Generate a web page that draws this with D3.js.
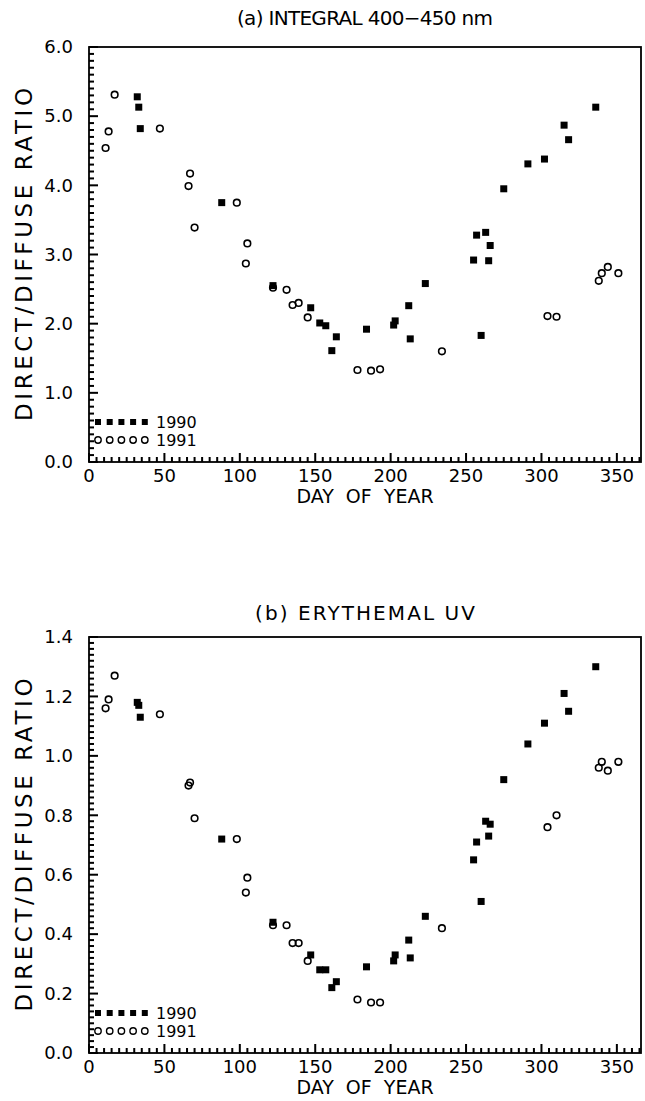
<!DOCTYPE html>
<html><head><meta charset="utf-8">
<script src="https://cdn.jsdelivr.net/npm/d3@7"></script>
<style>body{margin:0;background:#fff}svg{display:block}text{font-family:"DejaVu Sans",sans-serif;fill:#000}</style>
</head><body>
<script>
// ---- data ----
const days1990 = [32, 33, 34, 88, 122, 147, 153, 157, 161, 164, 184, 202, 203, 212, 213, 223, 255, 257, 260, 263, 265, 266, 275, 291, 302, 315, 318, 336];
const ratioA1990 = [5.28, 5.13, 4.82, 3.75, 2.55, 2.23, 2.01, 1.97, 1.61, 1.81, 1.92, 1.98, 2.04, 2.26, 1.78, 2.58, 2.92, 3.28, 1.83, 3.32, 2.91, 3.13, 3.95, 4.31, 4.38, 4.87, 4.66, 5.13];
const ratioB1990 = [1.18, 1.17, 1.13, 0.72, 0.44, 0.33, 0.28, 0.28, 0.22, 0.24, 0.29, 0.31, 0.33, 0.38, 0.32, 0.46, 0.65, 0.71, 0.51, 0.78, 0.73, 0.77, 0.92, 1.04, 1.11, 1.21, 1.15, 1.30];
const days1991 = [11, 13, 17, 47, 66, 67, 70, 98, 104, 105, 122, 131, 135, 139, 145, 178, 187, 193, 234, 304, 310, 338, 340, 344, 351];
const ratioA1991 = [4.54, 4.78, 5.31, 4.82, 3.99, 4.17, 3.39, 3.75, 2.87, 3.16, 2.52, 2.49, 2.27, 2.30, 2.09, 1.33, 1.32, 1.34, 1.60, 2.11, 2.10, 2.62, 2.73, 2.82, 2.73];
const ratioB1991 = [1.16, 1.19, 1.27, 1.14, 0.90, 0.91, 0.79, 0.72, 0.54, 0.59, 0.43, 0.43, 0.37, 0.37, 0.31, 0.18, 0.17, 0.17, 0.42, 0.76, 0.80, 0.96, 0.98, 0.95, 0.98];
const xTicks = [0, 50, 100, 150, 200, 250, 300, 350];
const yTicksA = [0, 1, 2, 3, 4, 5, 6];
const yTicksB = [0, 0.2, 0.4, 0.6, 0.8, 1.0, 1.2, 1.4];
const titles = ["(a)  INTEGRAL  400\u2212450  nm", "(b)  ERYTHEMAL  UV"];
const xTitle = "DAY  OF  YEAR";
const yTitle = "DIRECT/DIFFUSE  RATIO";
const legendLabels = ["1990", "1991"];

const W = 645, H = 1101;
const svg = d3.select("body").append("svg").attr("width", W).attr("height", H);

const panels = [
  {top: 47, bottom: 462, ymax: 6, yTicks: yTicksA, minorStep: 0.1, a: ratioA1990, b: ratioA1991, title: titles[0], titleY: 18, titleLen: 256},
  {top: 637, bottom: 1053, ymax: 1.4, yTicks: yTicksB, minorStep: 0.02, a: ratioB1990, b: ratioB1991, title: titles[1], titleY: 613, titleLen: 220}
];
const L = 89, R = 641;

panels.forEach(p => {
  const x = d3.scaleLinear().domain([0, 366]).range([L, R]);
  const y = d3.scaleLinear().domain([0, p.ymax]).range([p.bottom, p.top]);

  // frame
  svg.append("rect").attr("x", L).attr("y", p.top).attr("width", R - L).attr("height", p.bottom - p.top)
    .attr("fill", "none").attr("stroke", "#000").attr("stroke-width", 1.8);

  // tick labels
  p.yTicks.forEach(v => {
    svg.append("text").attr("x", L - 16).attr("y", y(v)).attr("dy", "0.35em")
      .attr("text-anchor", "end").attr("font-size", 18).text(d3.format(".1f")(v));
  });
  xTicks.forEach(v => {
    svg.append("text").attr("x", x(v)).attr("y", p.bottom + 20)
      .attr("text-anchor", "middle").attr("font-size", 18).text(d3.format("d")(v));
  });

  // titles
  svg.append("text").attr("x", (L + R) / 2).attr("y", p.titleY).attr("dy", "0.35em")
    .attr("text-anchor", "middle").attr("font-size", 20)
    .attr("textLength", p.titleLen).attr("lengthAdjust", "spacing").text(p.title.replace(/  /g, " "));
  svg.append("text").attr("x", (L + R) / 2).attr("y", p.bottom + 41)
    .attr("text-anchor", "middle").attr("font-size", 19).attr("word-spacing", 6).text(xTitle.replace(/  /g, " "));
  svg.append("text").attr("transform", `translate(24,${(p.top + p.bottom) / 2}) rotate(-90)`)
    .attr("dy", "0.35em").attr("text-anchor", "middle").attr("font-size", 23)
    .attr("textLength", 333).attr("lengthAdjust", "spacing").text(yTitle.replace(/  /g, " "));

  // data: 1990 filled squares
  const s = 7;
  svg.append("g").selectAll("rect").data(days1990.map((d, i) => [d, p.a[i]])).join("rect")
    .attr("x", d => x(d[0]) - s / 2).attr("y", d => y(d[1]) - s / 2)
    .attr("width", s).attr("height", s).attr("fill", "#000");
  // 1991 open circles
  svg.append("g").selectAll("circle").data(days1991.map((d, i) => [d, p.b[i]])).join("circle")
    .attr("cx", d => x(d[0])).attr("cy", d => y(d[1])).attr("r", 3.3)
    .attr("fill", "none").attr("stroke", "#000").attr("stroke-width", 1.6);

  // legend
  const ly1 = p.bottom - 40, ly2 = p.bottom - 22;
  d3.range(5).forEach(i => {
    const cx = 98 + i * 11.7;
    svg.append("rect").attr("x", cx - 3).attr("y", ly1 - 3).attr("width", 6).attr("height", 6).attr("fill", "#000");
    svg.append("circle").attr("cx", cx).attr("cy", ly2).attr("r", 3.2).attr("fill", "none").attr("stroke", "#000").attr("stroke-width", 1.4);
  });
  svg.append("text").attr("x", 156).attr("y", ly1).attr("dy", "0.35em").attr("font-size", 16).text(legendLabels[0]);
  svg.append("text").attr("x", 156).attr("y", ly2).attr("dy", "0.35em").attr("font-size", 16).text(legendLabels[1]);

  // inward ticks, drawn last, from the scales
  svg.append("g").selectAll("rect").data(d3.range(0, 366, 5)).join("rect")
    .attr("x", d => x(d) - 1).attr("width", 2)
    .attr("y", d => p.bottom - (d % 50 === 0 ? 9 : 5)).attr("height", d => (d % 50 === 0 ? 9 : 5))
    .attr("fill", "#000");
  const nMinor = Math.round(p.ymax / p.minorStep);
  const majorEvery = Math.round(p.yTicks[1] / p.minorStep);
  svg.append("g").selectAll("rect").data(d3.range(0, nMinor + 1)).join("rect")
    .attr("y", i => y(i * p.minorStep) - 1).attr("height", 2)
    .attr("x", L).attr("width", i => (i % majorEvery === 0 ? 9 : 5))
    .attr("fill", "#000");
});
</script>
</body></html>
